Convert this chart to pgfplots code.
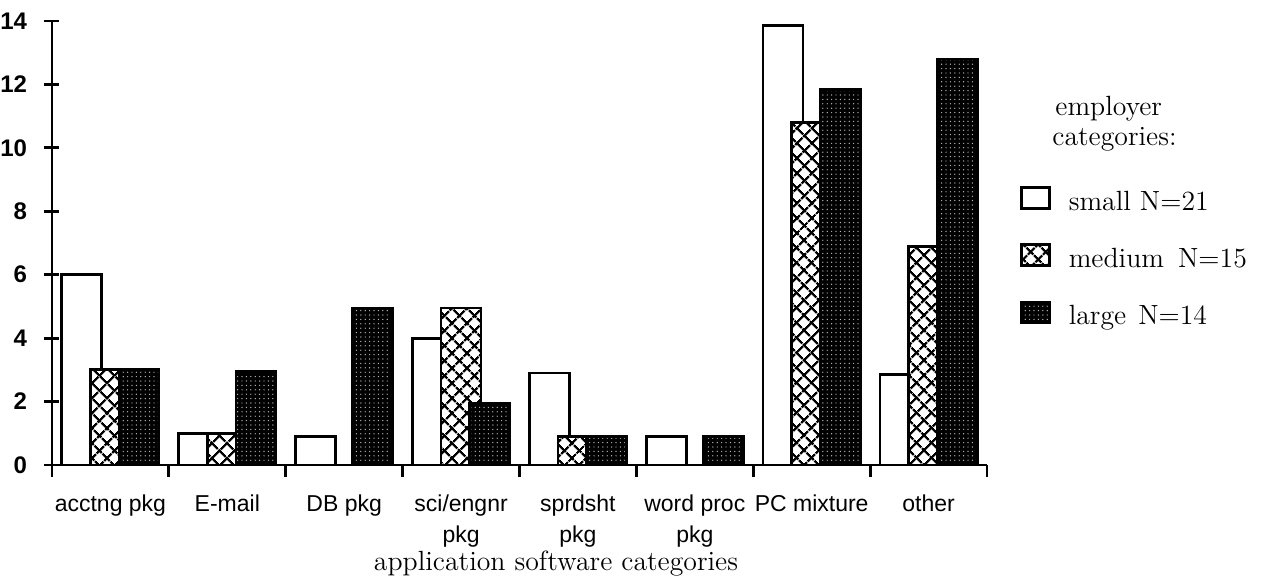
\documentclass[border=0pt]{standalone}
\usepackage{fontspec}
\setsansfont{Liberation Sans}
\usepackage{pgfplots}
\pgfplotsset{compat=1.18}
\usetikzlibrary{patterns.meta}

\tikzset{
  smallbar/.style={draw=black, line width=1.4pt, fill=white},
  medbar/.style={draw=black, line width=1.4pt,
    preaction={fill=white},
    preaction={pattern={Lines[angle=45,distance=5.4pt,line width=1.2pt]}},
    preaction={pattern={Lines[angle=-45,distance=5.4pt,line width=1.2pt]}}},
  largebar/.style={draw=black, line width=1.4pt,
    preaction={fill=black},
    preaction={pattern={Dots[distance=2.2pt,radius=0.35pt]}, pattern color=gray!55}},
}
\pgfplotsset{
  boxlegend/.style={legend image code/.code={\draw[##1,line width=1.2pt] (0pt,-2.5pt) rectangle (14pt,8pt);}},
}

\begin{document}
\begin{tikzpicture}
\path[use as bounding box] (0,0) rectangle (631.5pt,289.5pt);
\begin{axis}[
  at={(26pt,57pt)}, anchor=south west,
  width=467.5pt, height=222pt, scale only axis,
  xmin=-0.5, xmax=7.5, ymin=0, ymax=14,
  axis x line*=bottom, axis y line*=left,
  axis line style={line width=1.4pt},
  ytick={0,2,...,14},
  xtick={0,...,7},
  xticklabels={acctng pkg, E-mail, DB pkg, {sci/engnr\\pkg}, {sprdsht\\pkg}, {word proc\\pkg}, PC mixture, other},
  minor xtick={-0.5,0.5,...,7.5},
  major x tick style={draw=none},
  minor x tick style={yshift=-3pt},
  tick style={line width=1.4pt, black},
  major tick length=7.5pt, minor tick length=6pt, tick align=center,
  /pgf/number format/assume math mode=true,
  xticklabel style={font=\fontsize{11.5}{15.5}\selectfont\sffamily, align=center, anchor=north, inner sep=0pt, yshift=-11pt},
  yticklabel style={font=\fontsize{12}{13}\selectfont\sffamily\bfseries, anchor=east, inner sep=0pt, xshift=-8.5pt},
  legend style={at={(1.0353,0.6284)}, anchor=north west, draw=none, fill=none, inner sep=0pt,
    row sep=13.5pt, nodes={inner sep=0pt, text height=10pt, text depth=3pt, font=\fontsize{13.9}{16}\selectfont}},
  legend cell align=left,
]
\addplot[ybar, bar width=0.342, bar shift=-0.245, smallbar, boxlegend]
  coordinates {(0,6) (1,1) (2,0.9) (3,4) (4,2.9) (5,0.9) (6,13.85) (7,2.85)};
\addlegendentry{\hspace*{9pt}small N=21}
\addplot[ybar, bar width=0.342, bar shift=0, medbar, boxlegend]
  coordinates {(0,3) (1,1) (3,4.95) (4,0.9) (6,10.8) (7,6.9)};
\addlegendentry{\hspace*{9pt}medium\hspace{7pt}N=15}
\addplot[ybar, bar width=0.342, bar shift=0.245, largebar, boxlegend]
  coordinates {(0,3) (1,2.95) (2,4.95) (3,1.95) (4,0.9) (5,0.9) (6,11.85) (7,12.8)};
\addlegendentry{\hspace*{9pt}large\hspace{6pt}N=14}
\end{axis}
\node[anchor=base west, inner sep=0pt, font=\fontsize{13.9}{16}\selectfont] at (527.5pt,231.5pt) {employer};
\node[anchor=base west, inner sep=0pt, font=\fontsize{13.9}{16}\selectfont] at (526pt,216.5pt) {categories:};
\node[anchor=base, inner sep=0pt, font=\fontsize{13.9}{16}\selectfont] at (278pt,4.5pt) {application software categories};
\end{tikzpicture}
\end{document}
